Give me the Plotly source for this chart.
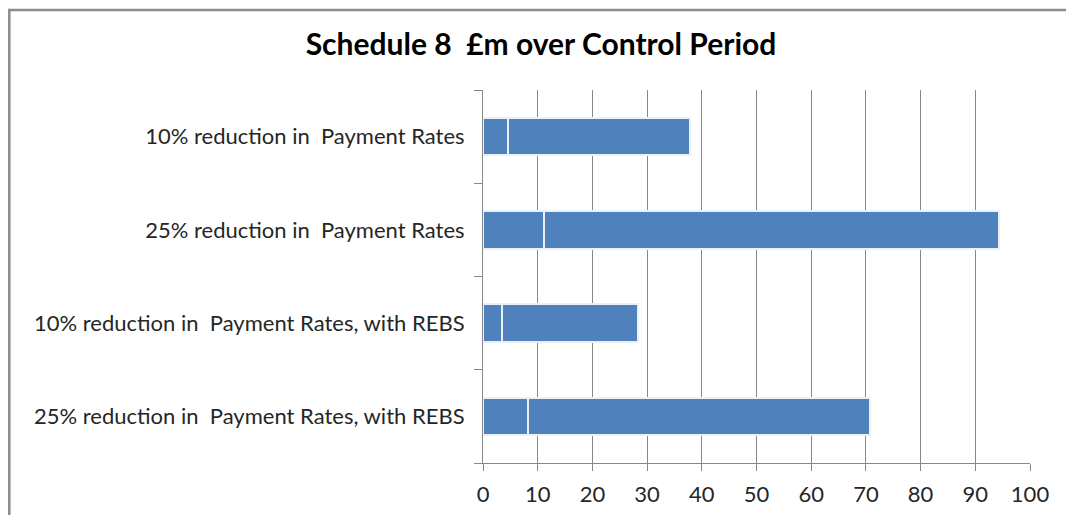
import plotly.graph_objects as go

categories = [
    "10% reduction in  Payment Rates",
    "25% reduction in  Payment Rates",
    "10% reduction in  Payment Rates, with REBS",
    "25% reduction in  Payment Rates, with REBS",
]
series_a = [4.5, 11.1, 3.5, 8.3]
series_b = [33.3, 83.3, 24.8, 62.5]
x_ticks = [0, 10, 20, 30, 40, 50, 60, 70, 80, 90, 100]

BAR = "#4F81BD"
GRID = "#868686"
FONT = "Lato, Carlito, Calibri, sans-serif"

# page body has an 8px default margin; figure sized to fit the window
W, H = 1066, 507
PL, PR, PT, PB = 475, 1022, 82, 455  # plot area in figure pixels

fig = go.Figure()
for vals in (series_a, series_b):
    fig.add_trace(go.Bar(
        y=categories, x=vals, orientation="h",
        marker=dict(color=BAR, line=dict(color="#EAF0F8", width=2)),
        showlegend=False,
    ))

pw, ph = PR - PL, PB - PT
fig.update_layout(
    width=W, height=H,
    barmode="stack", bargap=0.6,
    plot_bgcolor="white", paper_bgcolor="white",
    margin=dict(l=PL, r=W - PR, t=PT, b=H - PB, autoexpand=False),
    title=dict(text="<b>Schedule 8  £m over Control Period</b>",
               x=533 / W, xanchor="center", y=1 - 36 / H, yanchor="middle",
               font=dict(family=FONT, size=30, color="#000000")),
    font=dict(family=FONT, size=22, color="#262626"),
    xaxis=dict(range=[0, 100], tickvals=x_ticks, showgrid=True, gridcolor=GRID, gridwidth=1,
               showline=True, linecolor=GRID, linewidth=1, ticks="outside", ticklen=7,
               tickcolor=GRID, zeroline=False, ticklabelstandoff=5,
               tickfont=dict(size=22, color="#262626")),
    yaxis=dict(categoryorder="array", categoryarray=categories[::-1],
               showline=True, linecolor=GRID, linewidth=1, ticks="outside", ticklen=8,
               tickcolor=GRID, tickson="boundaries", showgrid=False,
               ticklabelstandoff=13, tickfont=dict(size=22, color="#262626")),
    shapes=[
        dict(type="rect", xref="paper", yref="paper",
             x0=(1.3 - PL) / pw, x1=(1064 - PL) / pw,
             y0=(PB - 540) / ph, y1=(PB - 2) / ph,
             line=dict(color="#8C8C8C", width=2.5), fillcolor="rgba(0,0,0,0)", layer="below"),
    ],
)

fig.write_html("out.html")
